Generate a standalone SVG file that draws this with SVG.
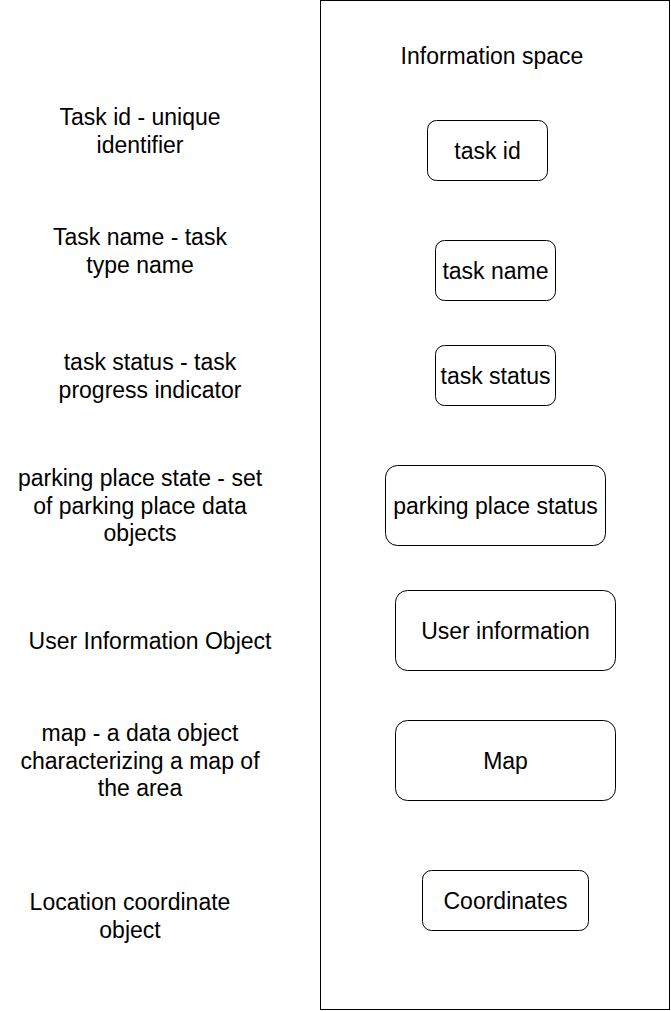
<svg xmlns="http://www.w3.org/2000/svg" width="671" height="1011" viewBox="0 0 671 1011">
<style>
text{font-family:"Liberation Sans",Arial,sans-serif;font-size:23px;fill:#000;text-anchor:middle}
.box{fill:#fff;stroke:#000;stroke-width:1}
</style>
<rect width="671" height="1011" fill="#fff"/>
<g id="space">
<rect x="320.5" y="0.5" width="349" height="1009" class="box"/>
<text x="492" y="64">Information space</text>
</g>
<g id="n-taskid"><rect x="427.5" y="120.5" width="120" height="60" rx="9" class="box"/><text x="487.5" y="159">task id</text></g>
<g id="n-taskname"><rect x="435.5" y="240.5" width="120" height="60" rx="9" class="box"/><text x="495.5" y="279">task name</text></g>
<g id="n-taskstatus"><rect x="435.5" y="345.5" width="120" height="60" rx="9" class="box"/><text x="495.5" y="384">task status</text></g>
<g id="n-parking"><rect x="385.5" y="465.5" width="220" height="80" rx="12" class="box"/><text x="495.5" y="514">parking place status</text></g>
<g id="n-user"><rect x="395.5" y="590.5" width="220" height="80" rx="12" class="box"/><text x="505.5" y="639">User information</text></g>
<g id="n-map"><rect x="395.5" y="720.5" width="220" height="80" rx="12" class="box"/><text x="505.5" y="769">Map</text></g>
<g id="n-coord"><rect x="422.5" y="870.5" width="166" height="60" rx="9" class="box"/><text x="505.5" y="909">Coordinates</text></g>
<g id="l-taskid"><text x="140" y="125">Task id - unique</text><text x="140" y="153">identifier</text></g>
<g id="l-taskname"><text x="140" y="245">Task name - task</text><text x="140" y="273">type name</text></g>
<g id="l-taskstatus"><text x="150" y="370">task status - task</text><text x="150" y="398">progress indicator</text></g>
<g id="l-parking"><text x="140" y="486">parking place state - set</text><text x="140" y="514">of parking place data</text><text x="140" y="541">objects</text></g>
<g id="l-user"><text x="150" y="649">User Information Object</text></g>
<g id="l-map"><text x="140" y="741">map - a data object</text><text x="140" y="769">characterizing a map of</text><text x="140" y="796">the area</text></g>
<g id="l-coord"><text x="130" y="910">Location coordinate</text><text x="130" y="938">object</text></g>
<g id="connectors"></g>
</svg>
